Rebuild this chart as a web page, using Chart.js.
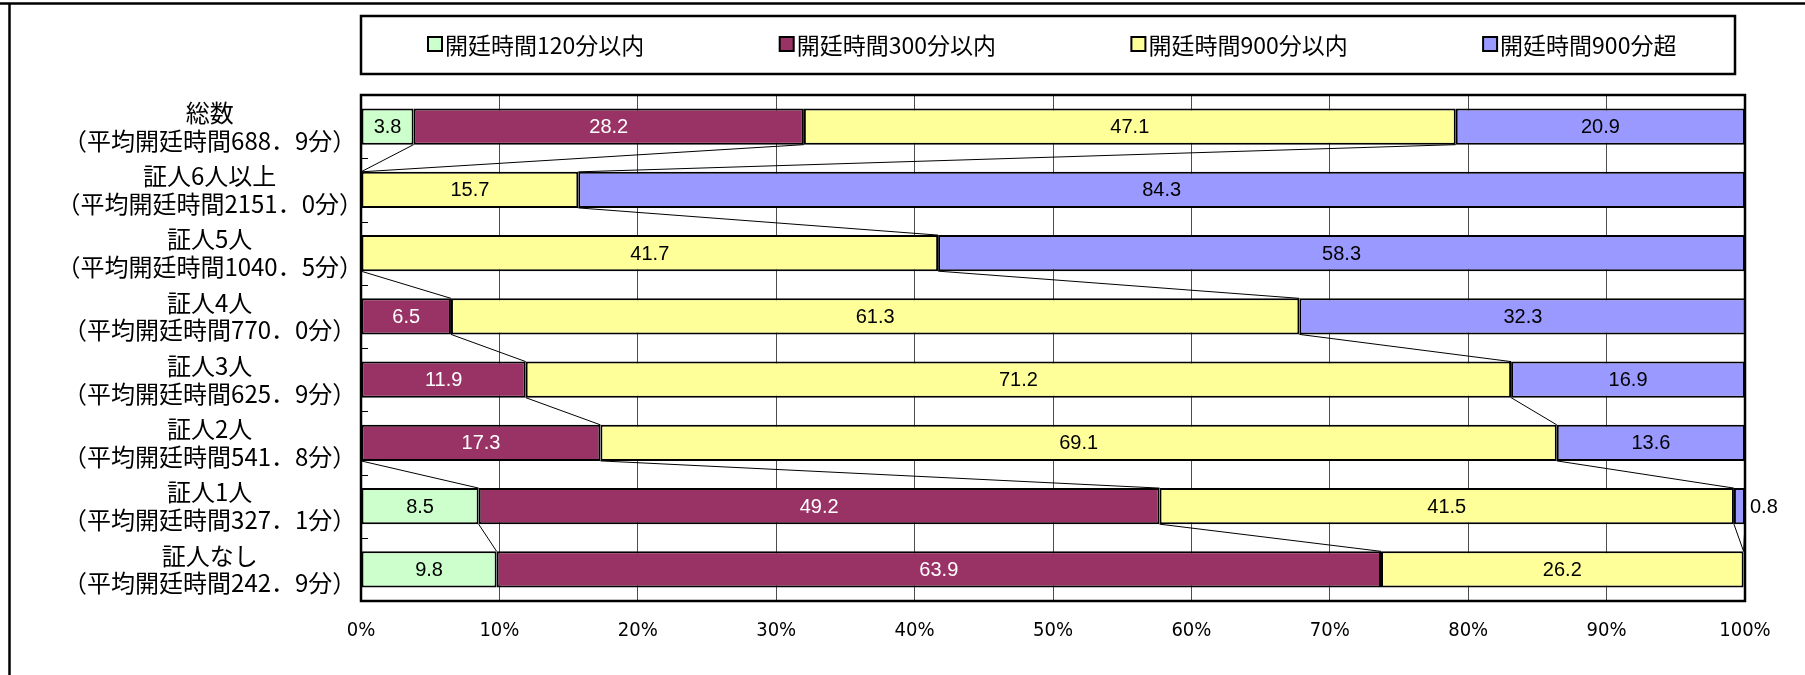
<!DOCTYPE html>
<html><head><meta charset="utf-8">
<script src="https://cdn.jsdelivr.net/npm/chart.js@4"></script>
<style>html,body{margin:0;padding:0;background:#fff;overflow:hidden}#wrap{width:1805px;height:675px;position:relative}</style>
</head><body><div id="wrap"><canvas id="c" width="1805" height="675"></canvas></div>
<script>
const categories = [
  ['総数','（平均開廷時間688．9分）'],
  ['証人6人以上','（平均開廷時間2151．0分）'],
  ['証人5人','（平均開廷時間1040．5分）'],
  ['証人4人','（平均開廷時間770．0分）'],
  ['証人3人','（平均開廷時間625．9分）'],
  ['証人2人','（平均開廷時間541．8分）'],
  ['証人1人','（平均開廷時間327．1分）'],
  ['証人なし','（平均開廷時間242．9分）']
];
const seriesNames = ['開廷時間120分以内','開廷時間300分以内','開廷時間900分以内','開廷時間900分超'];
const within120 = [3.8, null, null, null, null, null, 8.5, 9.8];
const within300 = [28.2, null, null, 6.5, 11.9, 17.3, 49.2, 63.9];
const within900 = [47.1, 15.7, 41.7, 61.3, 71.2, 69.1, 41.5, 26.2];
const over900  = [20.9, 84.3, 58.3, 32.3, 16.9, 13.6, 0.8, null];
const xTickValues = [0, 10, 20, 30, 40, 50, 60, 70, 80, 90, 100];

const fills = ['#CCFFCC', '#993366', '#FFFF99', '#9999FF'];
const labelColors = ['#000000', '#FFFFFF', '#000000', '#000000'];
const seriesData = [within120, within300, within900, over900];

const CJK = "'Noto Sans CJK JP', 'Noto Sans', sans-serif";
const NUM = "'Liberation Sans', Arial, sans-serif";
const NARROW = "'Liberation Sans Narrow', 'DejaVu Sans Condensed', 'Liberation Sans', Arial, sans-serif";

const decor = {
  id: 'decor',
  beforeDraw(chart) {
    const ctx = chart.ctx, ca = chart.chartArea;
    ctx.save();
    ctx.fillStyle = '#fff';
    ctx.fillRect(0, 0, chart.width, chart.height);
    // outer frame
    ctx.strokeStyle = '#000';
    ctx.lineWidth = 2.5;
    ctx.beginPath();
    ctx.moveTo(0, 3.5); ctx.lineTo(chart.width, 3.5);
    ctx.moveTo(9.5, 3.5); ctx.lineTo(9.5, chart.height);
    ctx.stroke();
    // legend box
    const lx = ca.left, rx = ca.right - 10, ty = 16, by = 74;
    ctx.lineWidth = 2.5;
    ctx.strokeRect(lx, ty, rx - lx, by - ty);
    const cy = (ty + by) / 2 - 1;
    ctx.font = "23px " + CJK;
    ctx.textBaseline = 'middle';
    ctx.textAlign = 'left';
    chart.data.datasets.forEach((ds, i) => {
      const x = lx + 67 + i * 351.7;
      ctx.fillStyle = ds.backgroundColor;
      ctx.fillRect(x, cy - 7, 14, 14);
      ctx.lineWidth = 2;
      ctx.strokeStyle = '#000';
      ctx.strokeRect(x, cy - 7, 14, 14);
      ctx.fillStyle = '#000';
      ctx.fillText(ds.label, x + 17, cy + 1);
    });
    ctx.restore();
  },
  afterDatasetsDraw(chart) {
    const ctx = chart.ctx, ca = chart.chartArea;
    const xs = chart.scales.x, ys = chart.scales.y;
    const ref = chart.getDatasetMeta(2).data;
    ctx.save();
    // series lines
    ctx.strokeStyle = '#000';
    ctx.lineWidth = 1;
    const n = categories.length;
    const cum = [];
    for (let i = 0; i < n; i++) {
      let s = 0; cum.push([]);
      for (let d = 0; d < seriesData.length; d++) { s += (seriesData[d][i] || 0); cum[i].push(s); }
    }
    ctx.beginPath();
    for (let i = 0; i < n - 1; i++) {
      const yb = ref[i].y + ref[i].height / 2;
      const yt = ref[i + 1].y - ref[i + 1].height / 2;
      for (let d = 0; d < seriesData.length; d++) {
        ctx.moveTo(xs.getPixelForValue(Math.min(100, cum[i][d])), yb);
        ctx.lineTo(xs.getPixelForValue(Math.min(100, cum[i + 1][d])), yt);
      }
    }
    ctx.stroke();
    // small inner ticks on category axis
    ctx.beginPath();
    for (let k = 1; k < n; k++) {
      const y = Math.round((ys.getPixelForValue(k - 1) + ys.getPixelForValue(k)) / 2) + 0.5;
      ctx.moveTo(ca.left, y); ctx.lineTo(ca.left + 7, y);
    }
    ctx.stroke();
    // plot border
    ctx.lineWidth = 2.5;
    ctx.strokeRect(ca.left, ca.top, ca.right - ca.left, ca.bottom - ca.top);
    // data labels
    ctx.font = "20px " + NUM;
    ctx.textBaseline = 'middle';
    chart.data.datasets.forEach((ds, d) => {
      const meta = chart.getDatasetMeta(d);
      meta.data.forEach((el, i) => {
        const v = ds.data[i];
        if (v === null || v === undefined) return;
        const txt = v.toFixed(1);
        const w = ctx.measureText(txt).width;
        const left = Math.min(el.x, el.base), right = Math.max(el.x, el.base);
        if (right - left < w + 6) {
          ctx.textAlign = 'left';
          ctx.fillStyle = '#000';
          ctx.fillText(txt, right + 5, el.y + 1);
        } else {
          ctx.textAlign = 'center';
          ctx.fillStyle = labelColors[d];
          ctx.fillText(txt, (left + right) / 2, el.y + 1);
        }
      });
    });
    ctx.restore();
  }
};

new Chart(document.getElementById('c'), {
  type: 'bar',
  data: {
    labels: categories,
    datasets: seriesData.map((arr, d) => ({
      label: seriesNames[d],
      data: arr,
      backgroundColor: fills[d],
      borderColor: '#000',
      borderWidth: 2,
      borderSkipped: false,
      barPercentage: 0.57,
      categoryPercentage: 1.0
    }))
  },
  options: {
    indexAxis: 'y',
    responsive: false,
    animation: false,
    devicePixelRatio: 1,
    layout: { padding: { left: 0, top: 95, right: 60, bottom: 0 } },
    plugins: { legend: { display: false }, tooltip: { enabled: false } },
    scales: {
      x: {
        stacked: true, min: 0, max: 100,
        afterBuildTicks(scale) { scale.ticks = xTickValues.map(v => ({ value: v })); },
        afterFit(scale) { scale.height = 74; },
        ticks: {
          callback: v => v + '%',
          color: '#000',
          font: { family: NARROW, size: 20 },
          padding: 18,
          maxRotation: 0
        },
        grid: { color: '#4d4d4d', lineWidth: 1, drawTicks: false },
        border: { display: false }
      },
      y: {
        stacked: true,
        afterFit(scale) { scale.width = 361; },
        ticks: {
          crossAlign: 'center',
          color: '#000',
          padding: -2,
          font: { family: CJK, size: 24, lineHeight: 1.15 }
        },
        grid: { display: false, drawTicks: false },
        border: { display: false }
      }
    }
  },
  plugins: [decor]
});
</script>
</body></html>
